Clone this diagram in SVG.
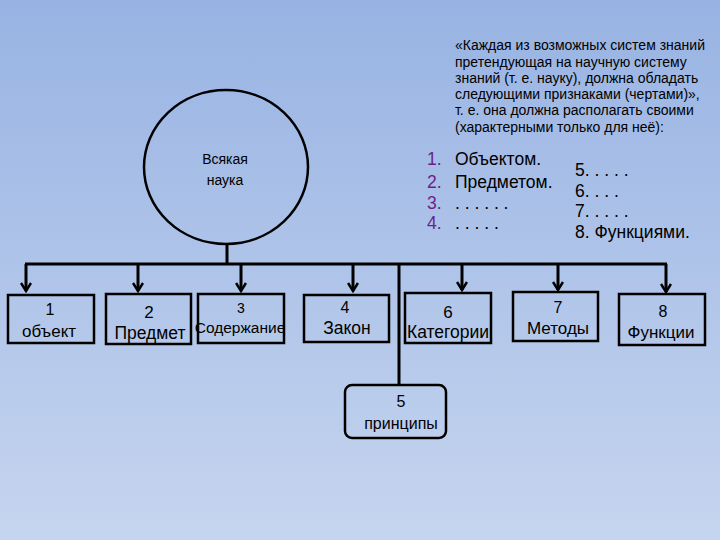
<svg xmlns="http://www.w3.org/2000/svg" width="720" height="540" viewBox="0 0 720 540">
<defs>
<linearGradient id="bg" x1="0" y1="0" x2="0" y2="1">
<stop offset="0" stop-color="#98b3e3"/>
<stop offset="1" stop-color="#c6d5ef"/>
</linearGradient>
<marker id="arr" markerWidth="12" markerHeight="12" viewBox="0 0 12 12" refX="10" refY="6" orient="auto" markerUnits="userSpaceOnUse">
<polyline points="2,1 10,6 2,11" fill="none" stroke="#000" stroke-width="2.5"/>
</marker>
</defs>
<style>
.ln{stroke:#000;stroke-width:3;fill:none}
.bx{fill:none;stroke:#000;stroke-width:2.5}
.t{font-family:"Liberation Sans",Arial,sans-serif;fill:#000;text-anchor:middle}
.q{font-family:"Liberation Sans",Arial,sans-serif;fill:#000;font-size:14px}
.l{font-family:"Liberation Sans",Arial,sans-serif;fill:#000;font-size:17.5px}
.n{fill:#6b1f87}
</style>
<rect width="720" height="540" fill="url(#bg)"/>
<g id="connectors">
<line class="ln" x1="227" y1="244" x2="227" y2="264"/>
<line class="ln" x1="25" y1="264" x2="667" y2="264"/>
<line class="ln" x1="399" y1="264" x2="399" y2="385"/>
<line class="ln" x1="26" y1="264" x2="26" y2="291" marker-end="url(#arr)"/>
<line class="ln" x1="138" y1="264" x2="138" y2="291" marker-end="url(#arr)"/>
<line class="ln" x1="241" y1="264" x2="241" y2="291" marker-end="url(#arr)"/>
<line class="ln" x1="353" y1="264" x2="353" y2="291" marker-end="url(#arr)"/>
<line class="ln" x1="462" y1="264" x2="462" y2="290" marker-end="url(#arr)"/>
<line class="ln" x1="558" y1="264" x2="558" y2="290" marker-end="url(#arr)"/>
<line class="ln" x1="666" y1="264" x2="666" y2="292" marker-end="url(#arr)"/>
</g>
<g id="root">
<ellipse cx="226" cy="167" rx="82" ry="77" fill="none" stroke="#000" stroke-width="2.5"/>
<text class="t" x="225" y="164" font-size="14">Всякая</text>
<text class="t" x="225" y="185" font-size="14">наука</text>
</g>
<g id="n1">
<rect class="bx" x="8" y="295" width="86" height="48"/>
<text class="t" x="50" y="315" font-size="16">1</text>
<text class="t" x="49" y="337" font-size="17">объект</text>
</g>
<g id="n2">
<rect class="bx" x="106" y="294" width="85" height="50"/>
<text class="t" x="149" y="318" font-size="17">2</text>
<text class="t" x="150" y="339" font-size="17.5">Предмет</text>
</g>
<g id="n3">
<rect class="bx" x="198" y="294" width="86" height="49"/>
<text class="t" x="241" y="313" font-size="14">3</text>
<text class="t" x="240" y="333" font-size="15.5">Содержание</text>
</g>
<g id="n4">
<rect class="bx" x="304" y="295" width="85" height="47"/>
<text class="t" x="345" y="313" font-size="16">4</text>
<text class="t" x="347" y="334" font-size="17.5">Закон</text>
</g>
<g id="n6">
<rect class="bx" x="405" y="293" width="86" height="50"/>
<text class="t" x="448" y="318" font-size="17">6</text>
<text class="t" x="448" y="338" font-size="17.5">Категории</text>
</g>
<g id="n7">
<rect class="bx" x="513" y="292" width="85" height="49"/>
<text class="t" x="558" y="313" font-size="16">7</text>
<text class="t" x="558" y="334" font-size="17">Методы</text>
</g>
<g id="n8">
<rect class="bx" x="619" y="294" width="86" height="51"/>
<text class="t" x="663" y="317" font-size="16">8</text>
<text class="t" x="661" y="338" font-size="17">Функции</text>
</g>
<g id="n5">
<rect class="bx" x="345" y="385" width="101" height="53" rx="7"/>
<text class="t" x="401" y="407" font-size="16">5</text>
<text class="t" x="401" y="429" font-size="16">принципы</text>
</g>
<g id="quote">
<text class="q" x="455" y="50">«Каждая из возможных систем знаний</text>
<text class="q" x="455" y="67">претендующая на научную систему</text>
<text class="q" x="455" y="83">знаний (т. е. науку), должна обладать</text>
<text class="q" x="455" y="99">следующими признаками (чертами)»,</text>
<text class="q" x="455" y="115">т. е. она должна располагать своими</text>
<text class="q" x="455" y="132">(характерными только для неё):</text>
</g>
<g id="list">
<text class="l" x="427" y="165"><tspan class="n">1.</tspan><tspan x="455">Объектом.</tspan></text>
<text class="l" x="427" y="188"><tspan class="n">2.</tspan><tspan x="455">Предметом.</tspan></text>
<text class="l" x="427" y="209"><tspan class="n">3.</tspan><tspan x="455">. . . . . .</tspan></text>
<text class="l" x="427" y="229"><tspan class="n">4.</tspan><tspan x="455">. . . . .</tspan></text>
<text class="l" x="575" y="176">5. . . . .</text>
<text class="l" x="575" y="197">6. . . .</text>
<text class="l" x="575" y="217">7. . . . .</text>
<text class="l" x="575" y="238">8. Функциями.</text>
</g>
</svg>
